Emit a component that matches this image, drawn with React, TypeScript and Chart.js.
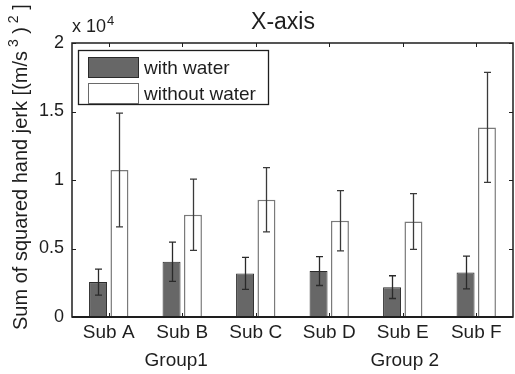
import { useEffect, useRef } from "react";
import { Chart, registerables } from "chart.js";

Chart.register(...registerables);

// Subjects on the category axis
const subjects = ["Sub A", "Sub B", "Sub C", "Sub D", "Sub E", "Sub F"];

// Mean sum of squared hand jerk, (m/s^3)^2
const withWater = [2550, 4030, 3180, 3350, 2180, 3250];
const withWaterErr = [950, 1430, 1170, 1050, 830, 1200];
const withoutWater = [10730, 7460, 8560, 7020, 6970, 13840];
const withoutWaterErr = [4150, 2600, 2350, 2200, 2030, 4010];

// Y tick values (raw units) and the multiplier shown above the axis
const yTicks = [0, 5000, 10000, 15000, 20000];
const yExponent = 4;

// Group captions under the subject labels
const groupLabels = ["Group1", "Group 2"];
const groupAnchors = ["Sub B", "Sub E"];

const FONT = "'Liberation Sans', Arial, Helvetica, sans-serif";
const INK = "#1e1e1e";

const errorBars = {
  id: "errorBars",
  afterDatasetsDraw(chart: any) {
    const { ctx } = chart;
    const y = chart.scales.y;
    const errs = [withWaterErr, withoutWaterErr];
    chart.data.datasets.forEach((ds: any, di: number) => {
      const meta = chart.getDatasetMeta(di);
      meta.data.forEach((bar: any, i: number) => {
        const v = ds.data[i];
        const e = errs[di][i];
        const top = y.getPixelForValue(v + e);
        const bot = y.getPixelForValue(v - e);
        const x = Math.round(bar.x) + 0.5;
        ctx.save();
        ctx.strokeStyle = di === 0 ? "#2a2a2a" : "#3a3a3a";
        ctx.lineWidth = 1.3;
        ctx.beginPath();
        ctx.moveTo(x, top);
        ctx.lineTo(x, bot);
        ctx.moveTo(x - 3.5, top);
        ctx.lineTo(x + 3.5, top);
        ctx.moveTo(x - 3.5, bot);
        ctx.lineTo(x + 3.5, bot);
        ctx.stroke();
        ctx.restore();
      });
    });
  },
};

const decorations = {
  id: "decorations",
  afterDraw(chart: any) {
    const { ctx, chartArea: a } = chart;
    const xs = chart.scales.x;
    const ys = chart.scales.y;
    ctx.save();

    // Axes box
    ctx.strokeStyle = INK;
    ctx.lineWidth = 1.5;
    ctx.strokeRect(a.left, a.top, a.right - a.left, a.bottom - a.top);
    ctx.lineWidth = 2.2;
    ctx.beginPath();
    ctx.moveTo(a.left, a.bottom);
    ctx.lineTo(a.right, a.bottom);
    ctx.stroke();

    // Inward tick marks
    ctx.lineWidth = 1;
    ctx.beginPath();
    yTicks.forEach((t) => {
      const py = Math.round(ys.getPixelForValue(t)) + 0.5;
      ctx.moveTo(a.left, py);
      ctx.lineTo(a.left + 4, py);
      ctx.moveTo(a.right, py);
      ctx.lineTo(a.right - 4, py);
    });
    subjects.forEach((_, i) => {
      const px = Math.round(xs.getPixelForTick(i)) + 0.5;
      ctx.moveTo(px, a.top);
      ctx.lineTo(px, a.top + 4);
      ctx.moveTo(px, a.bottom);
      ctx.lineTo(px, a.bottom - 4);
    });
    ctx.stroke();

    ctx.fillStyle = INK;

    // Title
    ctx.font = `23px ${FONT}`;
    ctx.textAlign = "center";
    ctx.textBaseline = "alphabetic";
    ctx.fillText("X-axis", 283, 29);

    // Exponent label
    ctx.textAlign = "left";
    ctx.font = `18px ${FONT}`;
    ctx.fillText("x 10", 72, 32);
    const w10 = ctx.measureText("x 10").width;
    ctx.font = `13px ${FONT}`;
    ctx.fillText(String(yExponent), 72 + w10 + 1, 25);

    // Group captions
    ctx.font = `19px ${FONT}`;
    ctx.textAlign = "center";
    groupLabels.forEach((g, i) => {
      const idx = subjects.indexOf(groupAnchors[i]);
      const px = xs.getPixelForTick(idx);
      ctx.fillText(g, px + (i === 0 ? -6 : 2), 366);
    });

    // Y axis title with superscripts
    ctx.save();
    ctx.translate(27, 330);
    ctx.rotate(-Math.PI / 2);
    ctx.textAlign = "left";
    const parts: [string, boolean][] = [
      ["Sum of squared hand jerk [(m/s", false],
      [" 3", true],
      [" )", false],
      [" 2", true],
      [" ]", false],
    ];
    let cx = 0;
    parts.forEach(([t, sup]) => {
      ctx.font = sup ? `14px ${FONT}` : `20px ${FONT}`;
      ctx.fillText(t, cx, sup ? -9 : 0);
      cx += ctx.measureText(t).width;
    });
    ctx.restore();

    // Legend
    const lx = 78, ly = 50, lw = 190, lh = 54;
    ctx.fillStyle = "#ffffff";
    ctx.fillRect(lx, ly, lw, lh);
    ctx.strokeStyle = INK;
    ctx.lineWidth = 1.3;
    ctx.strokeRect(lx + 0.5, ly + 0.5, lw, lh);
    const entries = chart.data.datasets;
    entries.forEach((ds: any, i: number) => {
      const sy = ly + 7 + i * 26;
      ctx.fillStyle = ds.backgroundColor;
      ctx.fillRect(88, sy, 50, 20);
      ctx.strokeStyle = i === 0 ? "#2a2a2a" : "#6a6a6a";
      ctx.lineWidth = 1;
      ctx.strokeRect(88.5, sy + 0.5, 50, 20);
      ctx.fillStyle = INK;
      ctx.font = `19px ${FONT}`;
      ctx.textAlign = "left";
      ctx.fillText(ds.label, 144, sy + 17);
    });

    ctx.restore();
  },
};

export default function App() {
  const ref = useRef<HTMLCanvasElement | null>(null);

  useEffect(() => {
    if (!ref.current) return;
    const chart = new Chart(ref.current, {
      type: "bar",
      data: {
        labels: subjects,
        datasets: [
          {
            label: "with water",
            data: withWater,
            backgroundColor: "#676767",
            borderColor: "#2a2a2a",
            borderWidth: 1,
            borderSkipped: "bottom",
            categoryPercentage: 0.582,
            barPercentage: 0.84,
          },
          {
            label: "without water",
            data: withoutWater,
            backgroundColor: "#ffffff",
            borderColor: "#7a7a7a",
            borderWidth: 1.5,
            borderSkipped: "bottom",
            categoryPercentage: 0.582,
            barPercentage: 0.84,
          },
        ],
      },
      options: {
        responsive: false,
        animation: false,
        devicePixelRatio: 1,
        layout: { padding: { top: 43, right: 2, left: 0, bottom: 0 } },
        plugins: {
          legend: { display: false },
          tooltip: { enabled: false },
          title: { display: false },
        },
        scales: {
          x: {
            grid: { display: false, drawTicks: false },
            border: { display: false },
            ticks: {
              color: INK,
              font: { family: FONT, size: 19 },
              padding: 4,
              maxRotation: 0,
            },
            afterFit(scale: any) {
              scale.height = 57;
            },
          },
          y: {
            min: 0,
            max: 20000,
            grid: { display: false, drawTicks: false },
            border: { display: false },
            ticks: {
              stepSize: 5000,
              color: INK,
              font: { family: FONT, size: 18 },
              padding: 8,
              callback: (v: any) => String(Number(v) / Math.pow(10, yExponent)),
            },
            afterFit(scale: any) {
              scale.width = 72;
            },
          },
        },
      },
      plugins: [errorBars, decorations],
    });
    return () => chart.destroy();
  }, []);

  return (
    <div style={{ position: "fixed", left: 0, top: 0, width: 515, height: 374, background: "#fff" }}>
      <canvas ref={ref} width={515} height={374} />
    </div>
  );
}
